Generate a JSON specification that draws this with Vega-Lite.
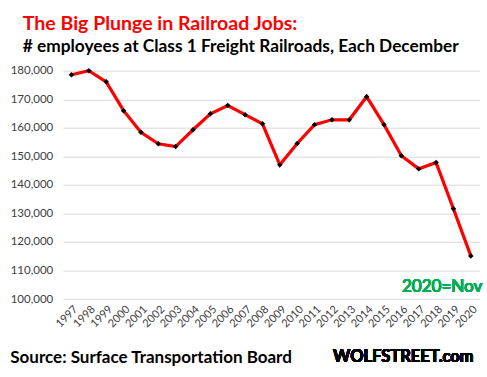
{
  "$schema": "https://vega.github.io/schema/vega-lite/v6.json",
  "autosize": {"type": "none"},
  "width": 416.7,
  "height": 228.3,
  "padding": {"left": 62.8, "top": 70.7, "right": 7.5, "bottom": 78},
  "background": "white",
  "config": {
    "font": "Lato",
    "view": {"stroke": null}
  },
  "title": {
    "text": "The Big Plunge in Railroad Jobs:",
    "subtitle": "# employees at Class 1 Freight Railroads, Each December",
    "anchor": "start",
    "frame": "group",
    "dx": -40,
    "offset": 8,
    "font": "Lato",
    "fontSize": 19.5,
    "fontWeight": "bold",
    "color": "#ff0000",
    "subtitleFont": "Lato",
    "subtitleFontSize": 17.3,
    "subtitleFontWeight": "bold",
    "subtitleColor": "#000000",
    "subtitlePadding": 3
  },
  "data": {
    "values": [
      {"year": "1997", "employees": 178600},
      {"year": "1998", "employees": 180000},
      {"year": "1999", "employees": 176100},
      {"year": "2000", "employees": 166000},
      {"year": "2001", "employees": 158400},
      {"year": "2002", "employees": 154400},
      {"year": "2003", "employees": 153400},
      {"year": "2004", "employees": 159300},
      {"year": "2005", "employees": 164900},
      {"year": "2006", "employees": 167800},
      {"year": "2007", "employees": 164600},
      {"year": "2008", "employees": 161400},
      {"year": "2009", "employees": 147000},
      {"year": "2010", "employees": 154500},
      {"year": "2011", "employees": 161100},
      {"year": "2012", "employees": 162800},
      {"year": "2013", "employees": 162800},
      {"year": "2014", "employees": 170900},
      {"year": "2015", "employees": 161100},
      {"year": "2016", "employees": 150200},
      {"year": "2017", "employees": 145600},
      {"year": "2018", "employees": 147800},
      {"year": "2019", "employees": 131600},
      {"year": "2020", "employees": 115100}
    ]
  },
  "encoding": {
    "x": {
      "field": "year",
      "type": "ordinal",
      "scale": {"type": "point", "padding": 0.5},
      "axis": {
        "title": "Source: Surface Transportation Board",
        "titleFont": "Lato",
        "titleFontSize": 17,
        "titleFontWeight": "bold",
        "titleColor": "#000000",
        "titleAnchor": "start",
        "titleAlign": "left",
        "titleBaseline": "alphabetic",
        "titleX": -53,
        "titleY": 63,
        "labelAngle": -45,
        "labelFontSize": 11,
        "labelColor": "#404040",
        "labelPadding": 4,
        "domain": false,
        "ticks": false,
        "grid": false
      }
    },
    "y": {
      "field": "employees",
      "type": "quantitative",
      "scale": {"domain": [100000, 180000], "nice": false, "zero": false},
      "axis": {
        "title": null,
        "values": [100000, 110000, 120000, 130000, 140000, 150000, 160000, 170000, 180000],
        "format": ",.0f",
        "labelFontSize": 11.5,
        "labelColor": "#404040",
        "labelPadding": 10,
        "domain": false,
        "ticks": false,
        "gridColor": "#d9d9d9",
        "gridWidth": 1
      }
    }
  },
  "layer": [
    {
      "mark": {"type": "line", "color": "#ff0000", "strokeWidth": 3.2}
    },
    {
      "mark": {"type": "point", "shape": "diamond", "filled": true, "color": "#000000", "size": 30, "opacity": 1}
    },
    {
      "mark": {"type": "text", "text": "2020=Nov", "font": "Lato", "fontSize": 17, "fontWeight": "normal", "color": "#00b050", "align": "center", "baseline": "alphabetic", "dx": 6},
      "encoding": {
        "x": {"datum": "2018"},
        "y": {"datum": 102500}
      }
    },
    {
      "mark": {"type": "text", "text": "WOLFSTREET.com", "font": "Lato", "fontSize": 16.5, "fontWeight": "bold", "color": "#000000", "align": "center", "baseline": "alphabetic", "dx": 2},
      "encoding": {
        "x": {"datum": "2016"},
        "y": {"datum": 77900}
      }
    }
  ]
}
